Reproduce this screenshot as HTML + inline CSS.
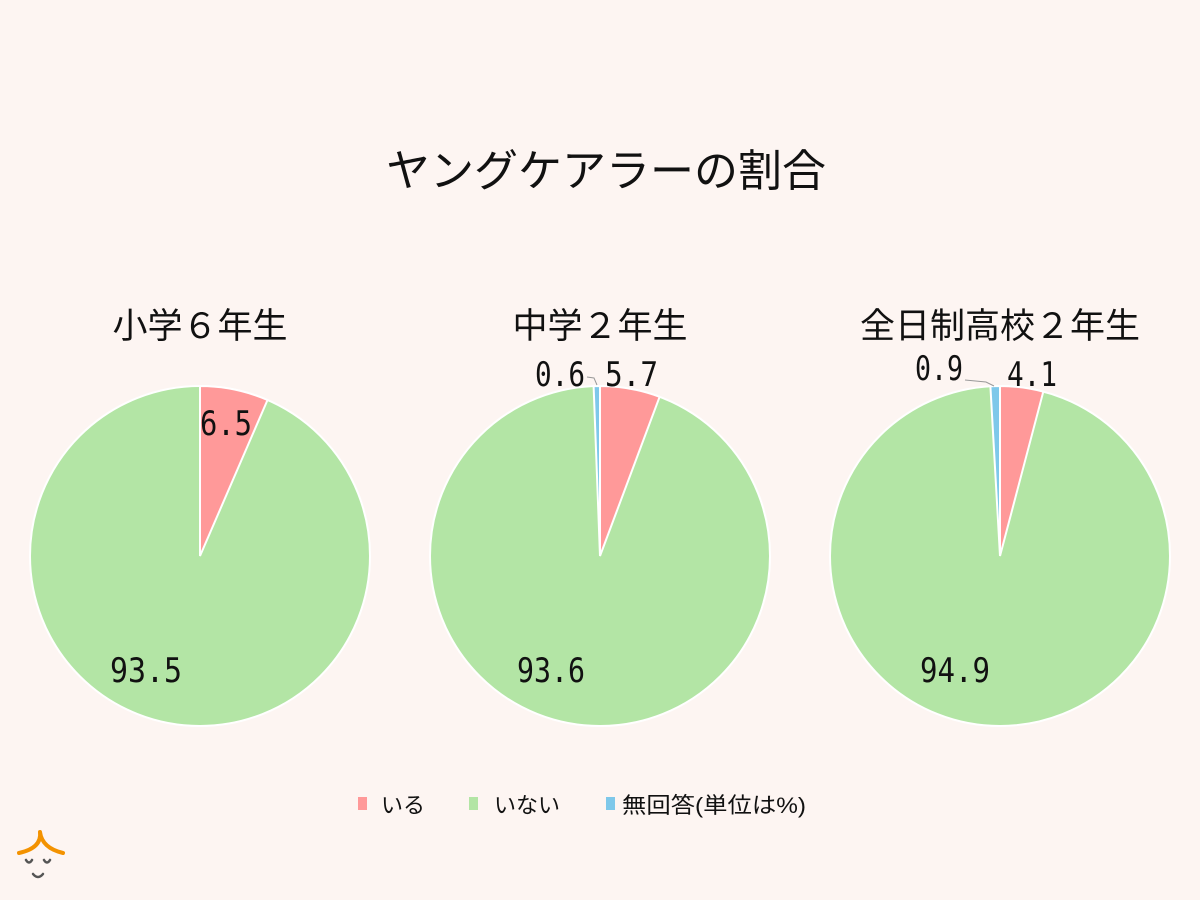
<!DOCTYPE html>
<html><head><meta charset="utf-8"><style>
html,body{margin:0;padding:0;background:#fdf5f2;}
svg{display:block}
</style></head><body>
<svg width="1200" height="900" viewBox="0 0 1200 900" xmlns="http://www.w3.org/2000/svg">
<rect width="1200" height="900" fill="#fdf5f2"/>
<g font-family="'Liberation Sans','Noto Sans CJK JP',sans-serif" fill="#111">
<text x="606" y="186" font-size="44" text-anchor="middle">ヤングケアラーの割合</text>
<text x="200" y="338" font-size="35" text-anchor="middle">小学６年生</text>
<text x="600" y="338" font-size="35" text-anchor="middle">中学２年生</text>
<text x="1000" y="338" font-size="35" text-anchor="middle">全日制高校２年生</text>
</g>
<g stroke="#fff" stroke-width="2">
<circle cx="200" cy="556" r="170" fill="#b3e5a5"/>
<path d="M200,556 L200,386 A170,170 0 0 1 267.5,400 Z" fill="#ff9999"/>
<circle cx="600" cy="556" r="170" fill="#b3e5a5"/>
<path d="M600,556 L600,386 A170,170 0 0 1 659.6,396.8 Z" fill="#ff9999"/>
<path d="M600,556 L593.6,386.1 A170,170 0 0 1 600,386 Z" fill="#7ec8ea"/>
<circle cx="1000" cy="556" r="170" fill="#b3e5a5"/>
<path d="M1000,556 L1000,386 A170,170 0 0 1 1043.3,391.6 Z" fill="#ff9999"/>
<path d="M1000,556 L990.4,386.3 A170,170 0 0 1 1000,386 Z" fill="#7ec8ea"/>
</g>
<g stroke="#999" stroke-width="1" fill="none">
<path d="M587,377 L594,378 L597,385"/>
<path d="M965,380 L986,382 L994,386"/>
</g>
<g font-family="'DejaVu Sans Mono','Liberation Mono',monospace" font-size="34" fill="#111">
<text x="200" y="435" textLength="52" lengthAdjust="spacingAndGlyphs">6.5</text>
<text x="110" y="682" textLength="72" lengthAdjust="spacingAndGlyphs">93.5</text>
<text x="535" y="386" textLength="50" lengthAdjust="spacingAndGlyphs">0.6</text>
<text x="605" y="386" textLength="53" lengthAdjust="spacingAndGlyphs">5.7</text>
<text x="517" y="682" textLength="68" lengthAdjust="spacingAndGlyphs">93.6</text>
<text x="915" y="380" textLength="48" lengthAdjust="spacingAndGlyphs">0.9</text>
<text x="1007" y="386" textLength="50" lengthAdjust="spacingAndGlyphs">4.1</text>
<text x="920" y="682" textLength="70" lengthAdjust="spacingAndGlyphs">94.9</text>
</g>
<g font-family="'Liberation Sans','Noto Sans CJK JP',sans-serif" font-size="22" fill="#111">
<rect x="358" y="797" width="9" height="13" fill="#ff9999"/>
<text x="381" y="813">いる</text>
<rect x="469" y="797" width="9" height="13" fill="#b3e5a5"/>
<text x="494" y="813">いない</text>
<rect x="606" y="797" width="9" height="13" fill="#7ec8ea"/>
<text x="622" y="813" textLength="184" lengthAdjust="spacingAndGlyphs">無回答(単位は%)</text>
</g>
<g fill="none" stroke-linecap="round">
<path d="M40,832 Q42,848 19,853 M40,832 Q42,848 63,853" stroke="#f39200" stroke-width="4"/>
<g stroke="#555" stroke-width="2.5">
<path d="M26,860 Q29,865 32,860 M44,860 Q47,865 50,860 M33,874 Q38,880 43,874"/>
</g>
</g>
</svg>
</body></html>
